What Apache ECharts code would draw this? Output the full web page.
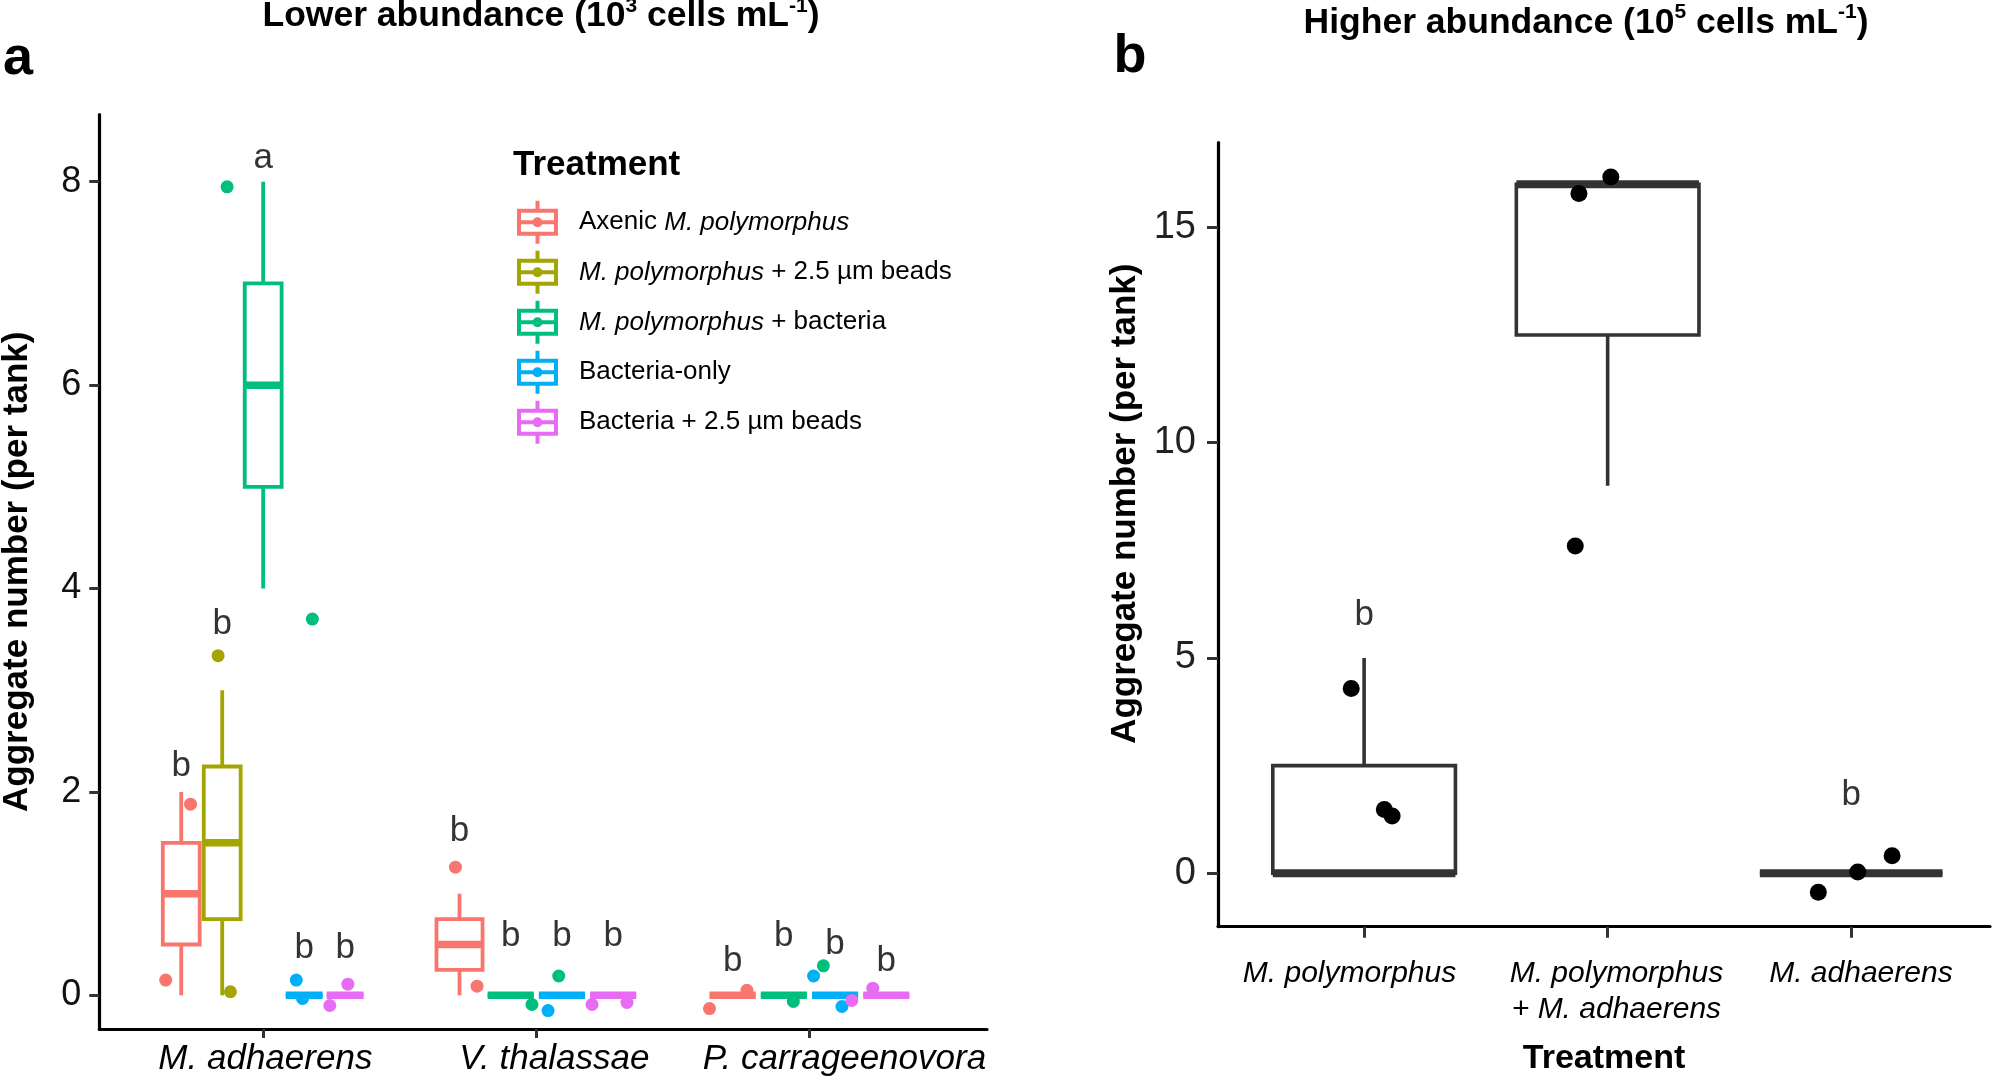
<!DOCTYPE html>
<html><head><meta charset="utf-8">
<script src="https://cdn.jsdelivr.net/npm/echarts@6/dist/echarts.min.js"></script>
<style>html,body{margin:0;padding:0;background:#fff}#c{width:1996px;height:1077px}</style>
</head><body><div id="c"></div>
<script>
// ---------------- data: panel a ----------------
const categoriesA = ['M. adhaerens', 'V. thalassae', 'P. carrageenovora'];
const treatments = ['Axenic M. polymorphus', 'M. polymorphus + 2.5 µm beads', 'M. polymorphus + bacteria', 'Bacteria-only', 'Bacteria + 2.5 µm beads'];
// box statistics [min, q1, median, q3, max] per category (null = not present)
const boxAxenic    = [[0, 0.5, 1, 1.5, 2], [0, 0.25, 0.5, 0.75, 1], [0, 0, 0, 0, 0]];
const boxBeads     = [[0, 0.75, 1.5, 2.25, 3], null, null];
const boxBact      = [[4, 5, 6, 7, 8], [0, 0, 0, 0, 0], [0, 0, 0, 0, 0]];
const boxBactOnly  = [[0, 0, 0, 0, 0], [0, 0, 0, 0, 0], [0, 0, 0, 0, 0]];
const boxBactBeads = [[0, 0, 0, 0, 0], [0, 0, 0, 0, 0], [0, 0, 0, 0, 0]];
// jittered tank observations [x, value]
const ptsAxenic    = [[0.643, 0.15], [0.734, 1.88], [1.704, 1.26], [1.783, 0.09], [2.634, -0.13], [2.771, 0.05]];
const ptsBeads     = [[0.835, 3.34], [0.880, 0.035]];
const ptsBact      = [[0.868, 7.95], [1.18, 3.7], [2.082, 0.19], [1.984, -0.09], [2.941, -0.06], [3.051, 0.29]];
const ptsBactOnly  = [[1.121, 0.15], [1.144, -0.03], [2.043, -0.15], [3.015, 0.19], [3.119, -0.11]];
const ptsBactBeads = [[1.31, 0.11], [1.244, -0.1], [2.204, -0.09], [2.332, -0.07], [3.155, -0.05], [3.232, 0.07]];
// significance letters and their heights
const letAxenic    = ['b', 'b', 'b'],   letAxenicY    = [2.25, 1.61, 0.33];
const letBeads     = ['b', null, null], letBeadsY     = [3.65, null, null];
const letBact      = ['a', 'b', 'b'],   letBactY      = [8.23, 0.58, 0.58];
const letBactOnly  = ['b', 'b', 'b'],   letBactOnlyY  = [0.46, 0.58, 0.50];
const letBactBeads = ['b', 'b', 'b'],   letBactBeadsY = [0.46, 0.58, 0.33];
const ticksA = [0, 2, 4, 6, 8];

// ---------------- data: panel b ----------------
const categoriesB = ['M. polymorphus', 'M. polymorphus\n+ M. adhaerens', 'M. adhaerens'];
const boxB = [[0, 0, 0, 2.5, 5], [9, 12.5, 16, 16, 16], [0, 0, 0, 0, 0]];
const ptsB = [[0.947, 4.29], [1.083, 1.48], [1.115, 1.33], [1.882, 15.79], [2.013, 16.17], [1.867, 7.6], [2.865, -0.44], [3.027, 0.03], [3.168, 0.41]];
const letB = ['b', 'a', 'b'], letBY = [6.0, 17.0, 1.8];
const ticksB = [0, 5, 10, 15];

// ---------------- build ----------------
const FONT = '"Liberation Sans", Arial, Helvetica, sans-serif';
const colors = ['#F8766D', '#A3A500', '#00BF7D', '#00B0F6', '#E76BF3'];
const boxSets = [boxAxenic, boxBeads, boxBact, boxBactOnly, boxBactBeads];
const ptsSets = [ptsAxenic, ptsBeads, ptsBact, ptsBactOnly, ptsBactBeads];
const letSets = [letAxenic, letBeads, letBact, letBactOnly, letBactBeads];
const letYSets = [letAxenicY, letBeadsY, letBactY, letBactOnlyY, letBactBeadsY];

function dodge(ci, k) {
  const present = boxSets.map((b, i) => (b[ci] ? i : -1)).filter(i => i >= 0);
  const n = present.length, j = present.indexOf(k), w = 0.75 / n;
  return { x: ci + 1 + (j - (n - 1) / 2) * w, w: w * 0.9 };
}

function boxRender(color, lw, mw) {
  return function (params, api) {
    const x = api.value(0), w = api.value(6);
    const half = api.size([w, 0])[0] / 2;
    const pMin = api.coord([x, api.value(1)]);
    const pQ1 = api.coord([x, api.value(2)]);
    const pMed = api.coord([x, api.value(3)]);
    const pQ3 = api.coord([x, api.value(4)]);
    const pMax = api.coord([x, api.value(5)]);
    const cx = pMin[0];
    return {
      type: 'group', children: [
        { type: 'line', shape: { x1: cx, y1: pMin[1], x2: cx, y2: pQ1[1] }, style: { stroke: color, lineWidth: lw } },
        { type: 'line', shape: { x1: cx, y1: pQ3[1], x2: cx, y2: pMax[1] }, style: { stroke: color, lineWidth: lw } },
        { type: 'rect', shape: { x: cx - half, y: pQ3[1], width: 2 * half, height: pQ1[1] - pQ3[1] }, style: { fill: '#fff', stroke: color, lineWidth: lw } },
        { type: 'line', shape: { x1: cx - half, y1: pMed[1], x2: cx + half, y2: pMed[1] }, style: { stroke: color, lineWidth: mw } }
      ]
    };
  };
}

const series = [];
treatments.forEach((t, k) => {
  const boxData = [];
  boxSets[k].forEach((s, ci) => { if (s) { const d = dodge(ci, k); boxData.push([d.x].concat(s, [d.w])); } });
  series.push({
    name: t, type: 'custom', xAxisIndex: 0, yAxisIndex: 0, z: 2,
    itemStyle: { color: colors[k] },
    renderItem: boxRender(colors[k], 3.8, 7.5),
    encode: { x: 0, y: [1, 2, 3, 4, 5] },
    data: boxData
  });
});
treatments.forEach((t, k) => {
  series.push({
    name: t, type: 'scatter', xAxisIndex: 0, yAxisIndex: 0, z: 3,
    symbol: 'circle', symbolSize: 13, itemStyle: { color: colors[k], opacity: 1 },
    data: ptsSets[k]
  });
});
const letterDataA = [];
treatments.forEach((t, k) => {
  letSets[k].forEach((l, ci) => { if (l) letterDataA.push([dodge(ci, k).x, letYSets[k][ci], l]); });
});
series.push({
  name: 'lettersA', type: 'scatter', xAxisIndex: 0, yAxisIndex: 0, z: 4, symbolSize: 0,
  label: { show: true, position: 'inside', formatter: p => p.value[2], fontSize: 35, color: '#000', fontFamily: FONT },
  data: letterDataA
});
// panel b
series.push({
  name: 'boxB', type: 'custom', xAxisIndex: 1, yAxisIndex: 1, z: 2,
  itemStyle: { color: '#333333' },
  renderItem: boxRender('#333333', 3.6, 8),
  encode: { x: 0, y: [1, 2, 3, 4, 5] },
  data: boxB.map((s, ci) => [ci + 1].concat(s, [0.75]))
});
series.push({
  name: 'pointsB', type: 'scatter', xAxisIndex: 1, yAxisIndex: 1, z: 3,
  symbol: 'circle', symbolSize: 17, itemStyle: { color: '#000', opacity: 1 },
  data: ptsB
});
series.push({
  name: 'lettersB', type: 'scatter', xAxisIndex: 1, yAxisIndex: 1, z: 4, symbolSize: 0,
  label: { show: true, position: 'inside', formatter: p => p.value[2], fontSize: 35, color: '#000', fontFamily: FONT },
  data: letB.map((l, ci) => [ci + 1, letBY[ci], l])
});

const legendIcon = 'path://M18.5 0H22.5V8H18.5Z M0 8H41V35H0Z M4 12V31H37V12Z M4 19.5H37V23.5H4Z M18.5 35H22.5V43H18.5Z M15.5 21.5A5 5 0 1 1 25.5 21.5A5 5 0 1 1 15.5 21.5Z';
const legendText = treatments.map(t => '{p| }' + t.replace('M. polymorphus', '{i|M. polymorphus}'));

const axisLineA = { show: true, onZero: false, lineStyle: { color: '#000', width: 3.2 } };
const tickStyle = { color: '#333', width: 3 };

const option = {
  animation: false,
  backgroundColor: '#fff',
  textStyle: { fontFamily: FONT },
  grid: [
    { left: 99.3, top: 114.6, width: 887.7, height: 914.3, containLabel: false, outerBoundsMode: 'none' },
    { left: 1218, top: 142.6, width: 772, height: 784.1, containLabel: false, outerBoundsMode: 'none' }
  ],
  xAxis: [
    {
      type: 'value', gridIndex: 0, min: 0.4, max: 3.65,
      axisLine: axisLineA,
      axisTick: { show: true, customValues: [1, 2, 3], length: 9, lineStyle: tickStyle },
      axisLabel: { customValues: [1.008, 2.066, 3.128], formatter: v => categoriesA[Math.round(v) - 1], fontSize: 35, fontStyle: 'italic', color: '#000', margin: 13, fontFamily: FONT },
      splitLine: { show: false }
    },
    {
      type: 'value', gridIndex: 1, min: 0.4, max: 3.57,
      axisLine: axisLineA,
      axisTick: { show: true, customValues: [1, 2, 3], length: 11, lineStyle: tickStyle },
      axisLabel: { customValues: [0.94, 2.036, 3.04], formatter: v => categoriesB[Math.round(v) - 1], fontSize: 30, fontStyle: 'italic', lineHeight: 36, color: '#000', margin: 29, fontFamily: FONT },
      splitLine: { show: false },
      name: 'Treatment', nameLocation: 'middle', nameGap: 115,
      nameTextStyle: { fontSize: 34, fontWeight: 'bold', color: '#000', fontFamily: FONT }
    }
  ],
  yAxis: [
    {
      type: 'value', gridIndex: 0, min: -0.33, max: 8.66,
      axisLine: axisLineA,
      axisTick: { show: true, customValues: ticksA, length: 10, lineStyle: tickStyle },
      axisLabel: { customValues: ticksA, fontSize: 36, color: '#111', margin: 18, fontFamily: FONT },
      splitLine: { show: false },
      name: 'Aggregate number (per tank)', nameLocation: 'middle', nameGap: 64,
      nameTextStyle: { fontSize: 35, fontWeight: 'bold', color: '#000', fontFamily: FONT }
    },
    {
      type: 'value', gridIndex: 1, min: -1.24, max: 16.97,
      axisLine: axisLineA,
      axisTick: { show: true, customValues: ticksB, length: 11, lineStyle: tickStyle },
      axisLabel: { customValues: ticksB, fontSize: 38, color: '#222', margin: 22, fontFamily: FONT },
      splitLine: { show: false }
    }
  ],
  legend: {
    orient: 'vertical', left: 517, top: 200.8, padding: 0,
    itemWidth: 41, itemHeight: 43, itemGap: 7, selectedMode: false,
    data: treatments.map(t => ({ name: t, icon: legendIcon })),
    formatter: name => legendText[treatments.indexOf(name)],
    itemStyle: { borderWidth: 0 },
    textStyle: {
      fontSize: 26, color: '#000', fontFamily: FONT,
      rich: {
        i: { fontStyle: 'italic', fontSize: 26, color: '#000', fontFamily: FONT },
        p: { width: 16, fontSize: 26 }
      }
    }
  },
  graphic: [
    { type: 'text', x: 18, y: 59, style: { text: 'a', fontSize: 54, fontWeight: 'bold', fontFamily: FONT, fill: '#000', align: 'center', verticalAlign: 'middle' } },
    { type: 'text', x: 1130, y: 57, style: { text: 'b', fontSize: 54, fontWeight: 'bold', fontFamily: FONT, fill: '#000', align: 'center', verticalAlign: 'middle' } },
    { type: 'text', x: 541, y: 16.5, style: {
        text: '{t|Lower abundance (10}{s|3}{t| cells mL}{s|-1}{t|)}', align: 'center', verticalAlign: 'middle',
        rich: { t: { fontSize: 35.5, fontWeight: 'bold', fontFamily: FONT, fill: '#000', lineHeight: 42 },
                s: { fontSize: 21, fontWeight: 'bold', fontFamily: FONT, fill: '#000', lineHeight: 26, verticalAlign: 'top' } } } },
    { type: 'text', x: 1586, y: 23, style: {
        text: '{t|Higher abundance (10}{s|5}{t| cells mL}{s|-1}{t|)}', align: 'center', verticalAlign: 'middle',
        rich: { t: { fontSize: 35.5, fontWeight: 'bold', fontFamily: FONT, fill: '#000', lineHeight: 42 },
                s: { fontSize: 21, fontWeight: 'bold', fontFamily: FONT, fill: '#000', lineHeight: 26, verticalAlign: 'top' } } } },
    { type: 'text', x: 513, y: 165, style: { text: 'Treatment', fontSize: 35, fontWeight: 'bold', fontFamily: FONT, fill: '#000', align: 'left', verticalAlign: 'middle' } },
    { type: 'text', x: 1125.5, y: 503.7, rotation: Math.PI / 2, style: { text: 'Aggregate number (per tank)', fontSize: 35, fontWeight: 'bold', fontFamily: FONT, fill: '#000', align: 'center', verticalAlign: 'middle' } }
  ],
  series: series
};

const chart = echarts.init(document.getElementById('c'), null, { renderer: 'canvas' });
chart.setOption(option);
</script>
</body></html>
